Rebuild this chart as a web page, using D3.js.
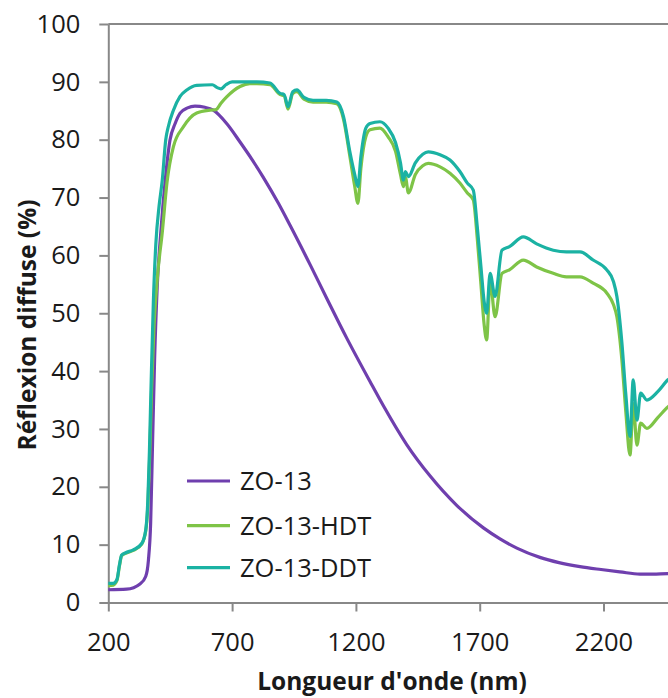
<!DOCTYPE html>
<html>
<head>
<meta charset="utf-8">
<script src="https://cdn.jsdelivr.net/npm/d3@7"></script>
<style>
  html, body { margin: 0; padding: 0; background: #fff; }
  svg { display: block; }
  text { font-family: "Open Sans", "Noto Sans", sans-serif; fill: #1a1a1a; }
</style>
</head>
<body>
<svg id="chart" width="668" height="698"></svg>
<script>
// ---- Data ----
const seriesNames = ["ZO-13", "ZO-13-HDT", "ZO-13-DDT"];
const seriesColors = ["#6f3fae", "#7ec447", "#1bb2a3"];

const zo13_nm  = [200, 274, 328, 351, 362, 371, 379, 387, 398, 412, 430, 449, 470, 490, 520, 550, 590, 624, 678, 732, 780, 826, 887, 934, 1015, 1082, 1163, 1257, 1311, 1405, 1499, 1607, 1715, 1782, 1850, 1943, 2020, 2105, 2190, 2266, 2347, 2400, 2460, 2500];
const zo13_val = [2.2, 2.3, 3.2, 4.5, 7.3, 13.7, 28.1, 42, 55, 64, 73, 79.9, 82.8, 84.6, 85.5, 85.8, 85.6, 85.1, 82.8, 79.6, 76.6, 73.5, 69.0, 65.2, 58.4, 52.6, 45.7, 38.2, 34.0, 27.3, 21.9, 16.8, 12.9, 11.0, 9.4, 7.8, 6.9, 6.2, 5.7, 5.3, 4.9, 4.9, 5.0, 5.0];

const hdt_nm  = [200, 220, 235, 245, 254, 270, 301, 335, 351, 360, 367, 375, 385, 400, 418, 437, 463, 503, 557, 611, 635, 655, 678, 732, 772, 800, 853, 894, 910, 926, 945, 962, 990, 1027, 1080, 1123, 1150, 1176, 1195, 1208, 1220, 1240, 1257, 1297, 1330, 1360, 1380, 1392, 1400, 1412, 1440, 1470, 1492, 1540, 1580, 1620, 1650, 1674, 1690, 1705, 1718, 1728, 1742, 1762, 1790, 1820, 1876, 1930, 1997, 2050, 2105, 2158, 2213, 2240, 2254, 2274, 2290, 2307, 2320, 2335, 2350, 2375, 2420, 2460, 2500];
const hdt_val = [2.9, 3.0, 3.8, 6.3, 8.1, 8.5, 9.0, 10.1, 12.3, 17, 25, 37, 48, 57, 64, 72.6, 78.8, 82.2, 84.6, 85.1, 85.2, 86.3, 87.4, 89.2, 89.7, 89.7, 89.5, 87.8, 87.6, 85.3, 88.0, 88.3, 87.0, 86.5, 86.5, 86.2, 83.5, 77.0, 72.0, 69.0, 75.0, 80.5, 81.7, 82.0, 80.5, 78.0, 74.0, 71.9, 73.5, 70.8, 74.0, 75.5, 75.9, 75.3, 74.2, 72.5, 70.8, 69.6, 63.0, 55.0, 48.0, 45.4, 55.7, 49.4, 56.9, 57.5, 59.2, 58.0, 56.9, 56.3, 56.3, 55.2, 53.5, 51.5, 49.4, 42.0, 33.0, 25.5, 34.4, 27.2, 31.0, 30.1, 32.0, 33.8, 35.0];

const ddt_nm  = [200, 220, 235, 245, 254, 270, 301, 335, 351, 360, 366, 373, 382, 392, 405, 418, 432, 442, 463, 490, 517, 557, 620, 640, 655, 675, 700, 760, 800, 853, 894, 910, 926, 945, 962, 990, 1027, 1080, 1123, 1150, 1176, 1195, 1208, 1220, 1240, 1257, 1297, 1330, 1360, 1380, 1392, 1400, 1412, 1440, 1470, 1492, 1540, 1580, 1620, 1650, 1674, 1690, 1705, 1718, 1728, 1742, 1762, 1790, 1820, 1876, 1930, 1997, 2050, 2105, 2158, 2213, 2240, 2254, 2274, 2290, 2307, 2320, 2335, 2350, 2375, 2420, 2460, 2500];
const ddt_val = [3.3, 3.3, 4.0, 6.5, 8.2, 8.6, 9.1, 10.2, 12.5, 18, 26, 38, 52, 62, 68.5, 73, 80, 82.2, 85.1, 87.5, 88.6, 89.4, 89.5, 89.0, 88.8, 89.5, 90.0, 90.0, 90.0, 89.8, 88.0, 87.8, 85.7, 88.3, 88.6, 87.3, 86.8, 86.8, 86.5, 84.0, 77.8, 74.0, 71.9, 77.0, 82.0, 82.8, 83.1, 82.0, 79.5, 76.0, 73.0, 74.5, 73.6, 76.0, 77.5, 77.9, 77.4, 76.5, 74.5, 72.5, 71.3, 65.0, 58.0, 52.0, 50.0, 56.9, 52.9, 60.9, 61.5, 63.2, 62.0, 60.9, 60.6, 60.6, 59.2, 57.5, 55.5, 52.9, 45.0, 36.0, 28.7, 38.5, 31.5, 36.2, 35.0, 36.5, 38.5, 39.5];

const xTicks = [200, 700, 1200, 1700, 2200];
const yTicks = [0, 10, 20, 30, 40, 50, 60, 70, 80, 90, 100];

const xTitle = "Longueur d'onde (nm)";
const yTitle = "Réflexion diffuse (%)";

// ---- Build ----
const series = [
  { name: seriesNames[0], color: seriesColors[0], pts: zo13_nm.map((d, i) => [d, zo13_val[i]]) },
  { name: seriesNames[1], color: seriesColors[1], pts: hdt_nm.map((d, i) => [d, hdt_val[i]]) },
  { name: seriesNames[2], color: seriesColors[2], pts: ddt_nm.map((d, i) => [d, ddt_val[i]]) }
];

const svg = d3.select("#chart");
const mLeft = 108.3, mRight = 677.8, mTop = 24, mBottom = 602.5;
const x = d3.scaleLinear().domain([200, 2500]).range([mLeft, mRight]);
const y = d3.scaleLinear().domain([0, 100]).range([mBottom, mTop]);
const axisColor = "#888888";
const fontSize = 25.5;

svg.append("defs").append("clipPath").attr("id", "plotclip")
  .append("rect").attr("x", mLeft).attr("y", mTop - 5).attr("width", mRight - mLeft).attr("height", mBottom - mTop + 5);

// top line at 100
svg.append("line")
  .attr("x1", mLeft).attr("x2", 668).attr("y1", y(100)).attr("y2", y(100))
  .attr("stroke", axisColor).attr("stroke-width", 2);

// Y axis
const yAxis = svg.append("g").attr("transform", `translate(${mLeft},0)`)
  .call(d3.axisLeft(y).tickValues(yTicks).tickSizeInner(9).tickSizeOuter(0).tickPadding(19));
// X axis
const xAxis = svg.append("g").attr("transform", `translate(0,${mBottom})`)
  .call(d3.axisBottom(x).tickValues(xTicks).tickSizeInner(9).tickSizeOuter(0).tickPadding(21).tickFormat(d3.format("d")));

[yAxis, xAxis].forEach(g => {
  g.select(".domain").attr("stroke", axisColor).attr("stroke-width", 2);
  g.selectAll(".tick line").attr("stroke", axisColor).attr("stroke-width", 2);
  g.selectAll(".tick text").attr("font-size", fontSize).attr("font-family", "Open Sans").attr("fill", "#111");
});

// Lines
const line = d3.line().x(d => x(d[0])).y(d => y(d[1])).curve(d3.curveMonotoneX);
const plot = svg.append("g").attr("clip-path", "url(#plotclip)");
series.forEach(s => {
  plot.append("path").datum(s.pts)
    .attr("d", line)
    .attr("fill", "none")
    .attr("stroke", s.color)
    .attr("stroke-width", 3.2)
    .attr("stroke-linejoin", "round")
    .attr("stroke-linecap", "round");
});

// Legend
const legendY = [481, 525.7, 567.7];
series.forEach((s, i) => {
  svg.append("line")
    .attr("x1", 187).attr("x2", 230).attr("y1", legendY[i]).attr("y2", legendY[i])
    .attr("stroke", s.color).attr("stroke-width", 3.2);
  svg.append("text")
    .attr("x", 240).attr("y", legendY[i]).attr("dy", "0.36em")
    .attr("font-size", fontSize)
    .attr("fill", "#111")
    .text(s.name);
});

// Axis titles
svg.append("text")
  .attr("x", 392).attr("y", 690)
  .attr("text-anchor", "middle")
  .attr("font-size", 24.5).attr("font-weight", "bold")
  .attr("fill", "#111")
  .text(xTitle);

svg.append("text")
  .attr("transform", `translate(36,325) rotate(-90)`)
  .attr("text-anchor", "middle")
  .attr("font-size", 24.5).attr("font-weight", "bold")
  .attr("fill", "#111")
  .text(yTitle);
</script>
</body>
</html>
